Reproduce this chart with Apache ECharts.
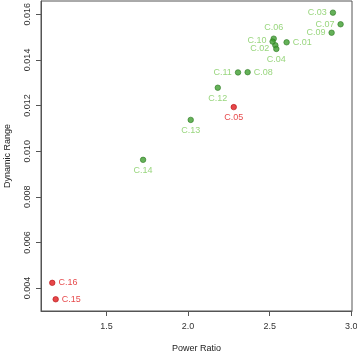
<!DOCTYPE html>
<html>
<head>
<meta charset="utf-8">
<script src="https://cdn.jsdelivr.net/npm/echarts@6/dist/echarts.min.js"></script>
<style>
  html, body { margin: 0; padding: 0; background: #fff; }
  #chart { width: 357px; height: 354px; }
</style>
</head>
<body>
<div id="chart"></div>
<script>
// point names, power ratio (x) and dynamic range (y)
const names = ["C.01", "C.02", "C.03", "C.04", "C.05", "C.06", "C.07", "C.08",
               "C.09", "C.10", "C.11", "C.12", "C.13", "C.14", "C.15", "C.16"];
const powerRatio = [2.604, 2.535, 2.888, 2.541, 2.280, 2.525, 2.935, 2.365,
                    2.880, 2.518, 2.306, 2.182, 2.016, 1.724, 1.188, 1.167];
const dynamicRange = [0.01477, 0.01464, 0.01607, 0.01448, 0.01193, 0.01493, 0.01556, 0.01346,
                      0.01519, 0.01480, 0.01345, 0.01278, 0.01137, 0.00962, 0.00351, 0.00423];
// which points are flagged (red)
const flagged = ["C.05", "C.15", "C.16"];
// where each label sits relative to its point
const labelSide = ["right", "left", "left", "bottom", "bottom", "top", "left", "right",
                   "left", "left", "left", "bottom", "bottom", "bottom", "right", "right"];
// small vertical nudges for crowded labels
const labelNudge = [0, 3, 0, 0, 0, 0, 0, 0, 0, -1, 0, 0, 0, 0, 0, 0];

const xTicks = [1.5, 2.0, 2.5, 3.0];
const yTicks = [0.004, 0.006, 0.008, 0.010, 0.012, 0.014, 0.016];

const GREEN_DOT = "#3f9e2f";
const GREEN_TXT = "#80cc5e";
const RED = "#e0191b";
const AXIS = "#555";
const FONT = "Liberation Sans, Arial, sans-serif";

function buildPoints(isRed) {
  const out = [];
  names.forEach((n, i) => {
    if (flagged.includes(n) !== isRed) return;
    out.push({
      value: [powerRatio[i], dynamicRange[i]],
      name: n,
      label: { position: labelSide[i], offset: [0, labelNudge[i]] }
    });
  });
  return out;
}

const chart = echarts.init(document.getElementById("chart"));

const labelCfg = (color) => ({
  show: true,
  formatter: p => p.name,
  color: color,
  fontSize: 9,
  fontFamily: FONT,
  distance: 3
});

chart.setOption({
  animation: false,
  grid: {
    left: 41, right: 5, top: 1, bottom: 43,
    outerBoundsMode: "none",
    containLabel: false,
    show: true, borderColor: AXIS, borderWidth: 1, backgroundColor: "transparent"
  },
  xAxis: {
    type: "value",
    min: 1.098, max: 3.005,
    name: "Power Ratio",
    nameLocation: "middle",
    nameGap: 33,
    nameTextStyle: { color: "#222", fontSize: 9, fontFamily: FONT },
    splitLine: { show: false },
    axisLine: { show: true, onZero: false, lineStyle: { color: AXIS } },
    axisTick: { show: true, length: 5, lineStyle: { color: AXIS }, customValues: xTicks },
    axisLabel: {
      color: "#333", fontSize: 9, margin: 11,
      fontFamily: FONT,
      customValues: xTicks,
      formatter: v => v.toFixed(1)
    }
  },
  yAxis: {
    type: "value",
    min: 0.002996, max: 0.01658,
    name: "Dynamic Range",
    nameLocation: "middle",
    nameGap: 29,
    nameRotate: 90,
    nameTextStyle: { color: "#222", fontSize: 9, fontFamily: FONT },
    splitLine: { show: false },
    axisLine: { show: true, onZero: false, lineStyle: { color: AXIS } },
    axisTick: { show: true, length: 5, lineStyle: { color: AXIS }, customValues: yTicks },
    axisLabel: {
      color: "#333", fontSize: 9, margin: 9, rotate: 90,
      fontFamily: FONT,
      customValues: yTicks,
      formatter: v => v.toFixed(3)
    }
  },
  series: [
    {
      type: "scatter",
      symbolSize: 5.5,
      itemStyle: { color: GREEN_DOT, borderColor: "#2d7a22", borderWidth: 0.8 },
      label: labelCfg(GREEN_TXT),
      data: buildPoints(false)
    },
    {
      type: "scatter",
      symbolSize: 5.5,
      itemStyle: { color: RED, borderColor: "#b81214", borderWidth: 0.8 },
      label: labelCfg(RED),
      data: buildPoints(true)
    }
  ]
});
</script>
</body>
</html>
